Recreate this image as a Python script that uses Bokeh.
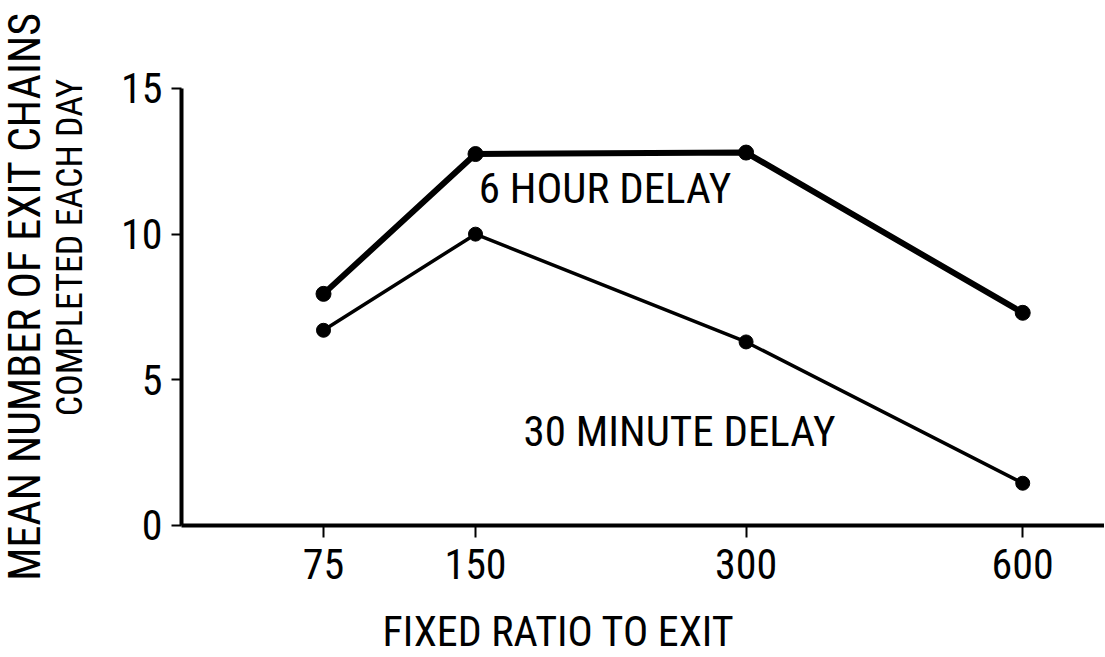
import math
from bokeh.plotting import figure
from bokeh.models import FixedTicker, Label, Range1d
from bokeh.embed import file_html
from bokeh.resources import INLINE

# ---- data ----
ratios = ["75", "150", "300", "600"]
x_pos = [1.0, 2.0, 3.78, 5.6]          # plotted positions of the ratios
six_hour = [7.95, 12.75, 12.8, 7.3]
thirty_min = [6.7, 10.0, 6.3, 1.45]
y_ticks = [0, 5, 10, 15]

FONT = "'Roboto Condensed', 'DejaVu Sans Condensed', sans-serif"

# frame covers the whole canvas; axes are pinned inside it with fixed_location
X0, X1 = -1.125, 6.138
Y0, Y1 = -4.497, 18.02
AX_X = 0.066  # where the y axis sits

p = figure(width=1104, height=656, output_backend="svg", toolbar_location=None,
           x_range=Range1d(X0, X1), y_range=Range1d(Y0, Y1),
           min_border=0)
p.outline_line_color = None
p.xgrid.visible = False
p.ygrid.visible = False
p.background_fill_color = "white"

# lines
p.line(x_pos, six_hour, line_width=6, color="black")
p.scatter(x_pos, six_hour, size=15, color="black")
p.line(x_pos, thirty_min, line_width=3.5, color="black")
p.scatter(x_pos, thirty_min, size=14, color="black")

# axes
for ax in (p.xaxis, p.yaxis):
    ax.axis_line_width = 4
    ax.axis_line_color = "black"
    ax.major_tick_line_width = 2
    ax.major_tick_line_color = "black"
    ax.minor_tick_line_color = None
    ax.major_tick_in = 0
    ax.major_label_text_font = FONT
    ax.major_label_text_font_size = "42px"
    ax.major_label_text_color = "black"

p.xaxis.fixed_location = 0
p.xaxis.bounds = (AX_X, X1)
p.xaxis.ticker = FixedTicker(ticks=x_pos)
p.xaxis.major_label_overrides = {x: r for x, r in zip(x_pos, ratios)}
p.xaxis.major_tick_out = 12
p.xaxis.major_label_standoff = 12

p.yaxis.fixed_location = AX_X
p.yaxis.bounds = (0, 15)
p.yaxis.ticker = FixedTicker(ticks=y_ticks)
p.yaxis.major_tick_out = 10
p.yaxis.major_label_standoff = 9

# texts
kw = dict(text_font=FONT, text_color="black", text_align="center", text_baseline="alphabetic")
p.add_layout(Label(x=-0.961, y=7.86, text="MEAN NUMBER OF EXIT CHAINS", angle=math.pi / 2,
                   text_font_size="44px", **kw))
p.add_layout(Label(x=-0.671, y=9.54, text="COMPLETED EACH DAY", angle=math.pi / 2,
                   text_font_size="36px", **kw))
p.add_layout(Label(x=2.546, y=-3.64, text="FIXED RATIO TO EXIT", text_font_size="42px", **kw))
p.add_layout(Label(x=2.852, y=11.6, text="6 HOUR DELAY", text_font_size="43px", **kw))
p.add_layout(Label(x=3.342, y=3.26, text="30 MINUTE DELAY", text_font_size="43px", **kw))

open("out.html", "w").write(file_html(p, INLINE))
